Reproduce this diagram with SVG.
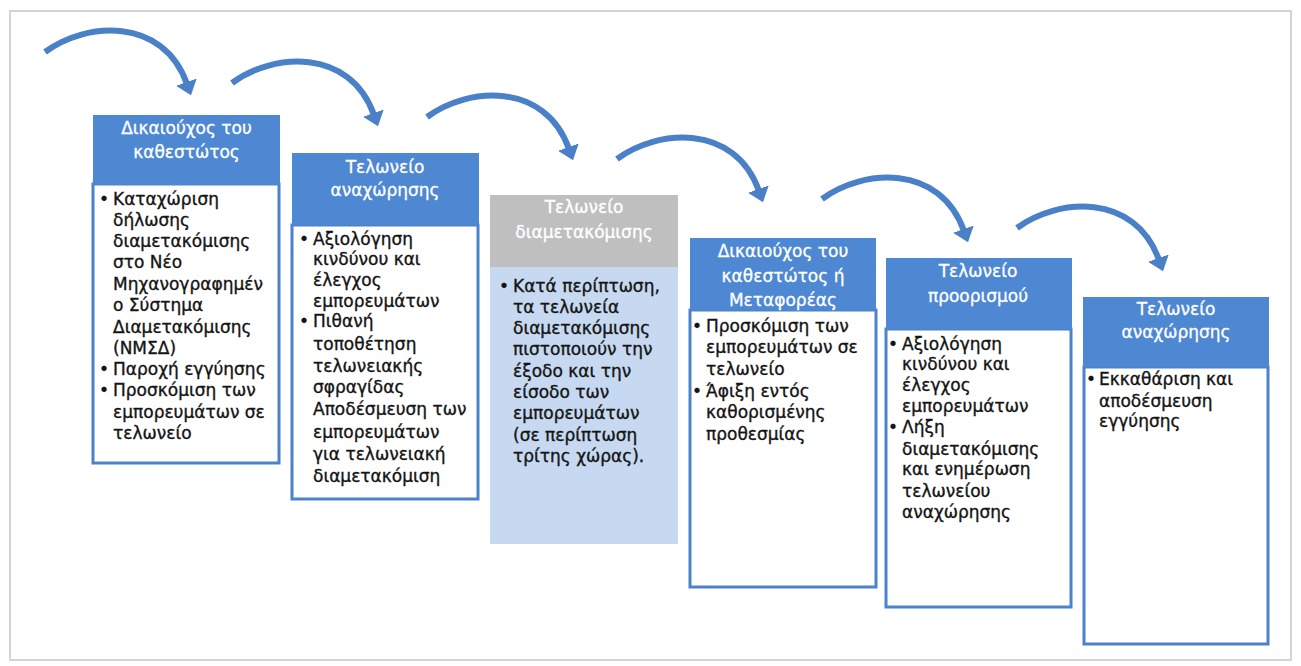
<svg xmlns="http://www.w3.org/2000/svg" width="1301" height="666" viewBox="0 0 1301 666">
<defs>
<style>
.hdr{fill:#4e87d2}
.hdrg{fill:#bfbfbf}
.body{fill:#ffffff;stroke:#4a82cc;stroke-width:3}
.bodyb{fill:#c6d9f1;stroke:none}
.ht{font-family:"DejaVu Sans",Verdana,sans-serif;font-size:17px;fill:#ffffff;stroke:#ffffff;stroke-width:0.3;text-anchor:middle}
.bt{font-family:"DejaVu Sans",Verdana,sans-serif;font-size:17px;fill:#141414;stroke:#141414;stroke-width:0.35}
.arc{fill:none;stroke:#4a80c8;stroke-width:6;marker-end:url(#ah)}
</style>
<marker id="ah" markerUnits="userSpaceOnUse" markerWidth="24" markerHeight="24" viewBox="0 0 24 24" refX="2" refY="12" orient="auto">
<path d="M0,1 L14,12 L0,23 z" fill="#4a80c8"/>
</marker>
</defs>
<rect x="0" y="0" width="1301" height="666" fill="#ffffff"/>
<rect x="10" y="11" width="1281" height="649" fill="none" stroke="#d4d4d4" stroke-width="2"/>

<g id="connectors">
<path class="arc" transform="translate(45,52)" d="M0,0 C40,-30 118,-36 142,32"/>
<path class="arc" transform="translate(232,83)" d="M0,0 C40,-30 118,-36 142,32"/>
<path class="arc" transform="translate(427,117)" d="M0,0 C40,-30 118,-36 142,32"/>
<path class="arc" transform="translate(617,159)" d="M0,0 C40,-30 118,-36 142,32"/>
<path class="arc" transform="translate(822,199)" d="M0,0 C40,-30 118,-36 142,32"/>
<path class="arc" transform="translate(1017,228)" d="M0,0 C40,-30 118,-36 142,32"/>
</g>

<g id="n1">
<rect class="body" x="93" y="184" width="186" height="279"/>
<rect class="hdr" x="93" y="115" width="187" height="70"/>
<text class="ht"><tspan x="186.5" y="134">Δικαιούχος του</tspan><tspan x="186.5" y="158">καθεστώτος</tspan></text>
<text class="bt"><tspan x="99" y="205">•</tspan><tspan x="99" y="375">•</tspan><tspan x="99" y="396">•</tspan></text>
<text class="bt"><tspan x="113" y="205">Καταχώριση</tspan><tspan x="113" y="226">δήλωσης</tspan><tspan x="113" y="247">διαμετακόμισης</tspan><tspan x="113" y="268">στο Νέο</tspan><tspan x="113" y="290">Μηχανογραφημέν</tspan><tspan x="113" y="311">ο Σύστημα</tspan><tspan x="113" y="333">Διαμετακόμισης</tspan><tspan x="113" y="354">(ΝΜΣΔ)</tspan><tspan x="113" y="375">Παροχή εγγύησης</tspan><tspan x="113" y="396">Προσκόμιση των</tspan><tspan x="113" y="418">εμπορευμάτων σε</tspan><tspan x="113" y="439">τελωνείο</tspan></text>
</g>

<g id="n2">
<rect class="body" x="292" y="225" width="186" height="274"/>
<rect class="hdr" x="292" y="153" width="187" height="72"/>
<text class="ht"><tspan x="385" y="173">Τελωνείο</tspan><tspan x="385" y="196">αναχώρησης</tspan></text>
<text class="bt"><tspan x="299" y="245">•</tspan><tspan x="299" y="327">•</tspan></text>
<text class="bt"><tspan x="313" y="245">Αξιολόγηση</tspan><tspan x="313" y="265">κινδύνου και</tspan><tspan x="313" y="286">έλεγχος</tspan><tspan x="313" y="307">εμπορευμάτων</tspan><tspan x="313" y="327">Πιθανή</tspan><tspan x="313" y="350">τοποθέτηση</tspan><tspan x="313" y="372">τελωνειακής</tspan><tspan x="313" y="393">σφραγίδας</tspan><tspan x="313" y="415">Αποδέσμευση των</tspan><tspan x="313" y="438">εμπορευμάτων</tspan><tspan x="313" y="460">για τελωνειακή</tspan><tspan x="313" y="482">διαμετακόμιση</tspan></text>
</g>

<g id="n3">
<rect class="bodyb" x="490" y="267" width="188" height="277"/>
<rect class="hdrg" x="490" y="195" width="188" height="72"/>
<text class="ht"><tspan x="584" y="213">Τελωνείο</tspan><tspan x="584" y="238">διαμετακόμισης</tspan></text>
<text class="bt"><tspan x="499" y="292">•</tspan></text>
<text class="bt"><tspan x="513" y="292">Κατά περίπτωση,</tspan><tspan x="513" y="313">τα τελωνεία</tspan><tspan x="513" y="334">διαμετακόμισης</tspan><tspan x="513" y="355">πιστοποιούν την</tspan><tspan x="513" y="377">έξοδο και την</tspan><tspan x="513" y="398">είσοδο των</tspan><tspan x="513" y="419">εμπορευμάτων</tspan><tspan x="513" y="441">(σε περίπτωση</tspan><tspan x="513" y="462">τρίτης χώρας).</tspan></text>
</g>

<g id="n4">
<rect class="body" x="690" y="310" width="186" height="277"/>
<rect class="hdr" x="690" y="238" width="186" height="72"/>
<text class="ht"><tspan x="783" y="257">Δικαιούχος του</tspan><tspan x="783" y="282">καθεστώτος ή</tspan><tspan x="783" y="306">Μεταφορέας</tspan></text>
<text class="bt"><tspan x="692" y="332">•</tspan><tspan x="692" y="397">•</tspan></text>
<text class="bt"><tspan x="706" y="332">Προσκόμιση των</tspan><tspan x="706" y="353">εμπορευμάτων σε</tspan><tspan x="706" y="375">τελωνείο</tspan><tspan x="706" y="397">Άφιξη εντός</tspan><tspan x="706" y="418">καθορισμένης</tspan><tspan x="706" y="440">προθεσμίας</tspan></text>
</g>

<g id="n5">
<rect class="body" x="886" y="329" width="185" height="278"/>
<rect class="hdr" x="886" y="258" width="186" height="71"/>
<text class="ht"><tspan x="978" y="277">Τελωνείο</tspan><tspan x="978" y="302">προορισμού</tspan></text>
<text class="bt"><tspan x="888" y="350">•</tspan><tspan x="888" y="433">•</tspan></text>
<text class="bt"><tspan x="902" y="350">Αξιολόγηση</tspan><tspan x="902" y="370">κινδύνου και</tspan><tspan x="902" y="391">έλεγχος</tspan><tspan x="902" y="412">εμπορευμάτων</tspan><tspan x="902" y="433">Λήξη</tspan><tspan x="902" y="455">διαμετακόμισης</tspan><tspan x="902" y="475">και ενημέρωση</tspan><tspan x="902" y="497">τελωνείου</tspan><tspan x="902" y="518">αναχώρησης</tspan></text>
</g>

<g id="n6">
<rect class="body" x="1084" y="367" width="184" height="277"/>
<rect class="hdr" x="1083" y="297" width="186" height="70"/>
<text class="ht"><tspan x="1176" y="315">Τελωνείο</tspan><tspan x="1176" y="338">αναχώρησης</tspan></text>
<text class="bt"><tspan x="1086" y="385">•</tspan></text>
<text class="bt"><tspan x="1099" y="385">Εκκαθάριση και</tspan><tspan x="1099" y="407">αποδέσμευση</tspan><tspan x="1099" y="427">εγγύησης</tspan></text>
</g>
</svg>
